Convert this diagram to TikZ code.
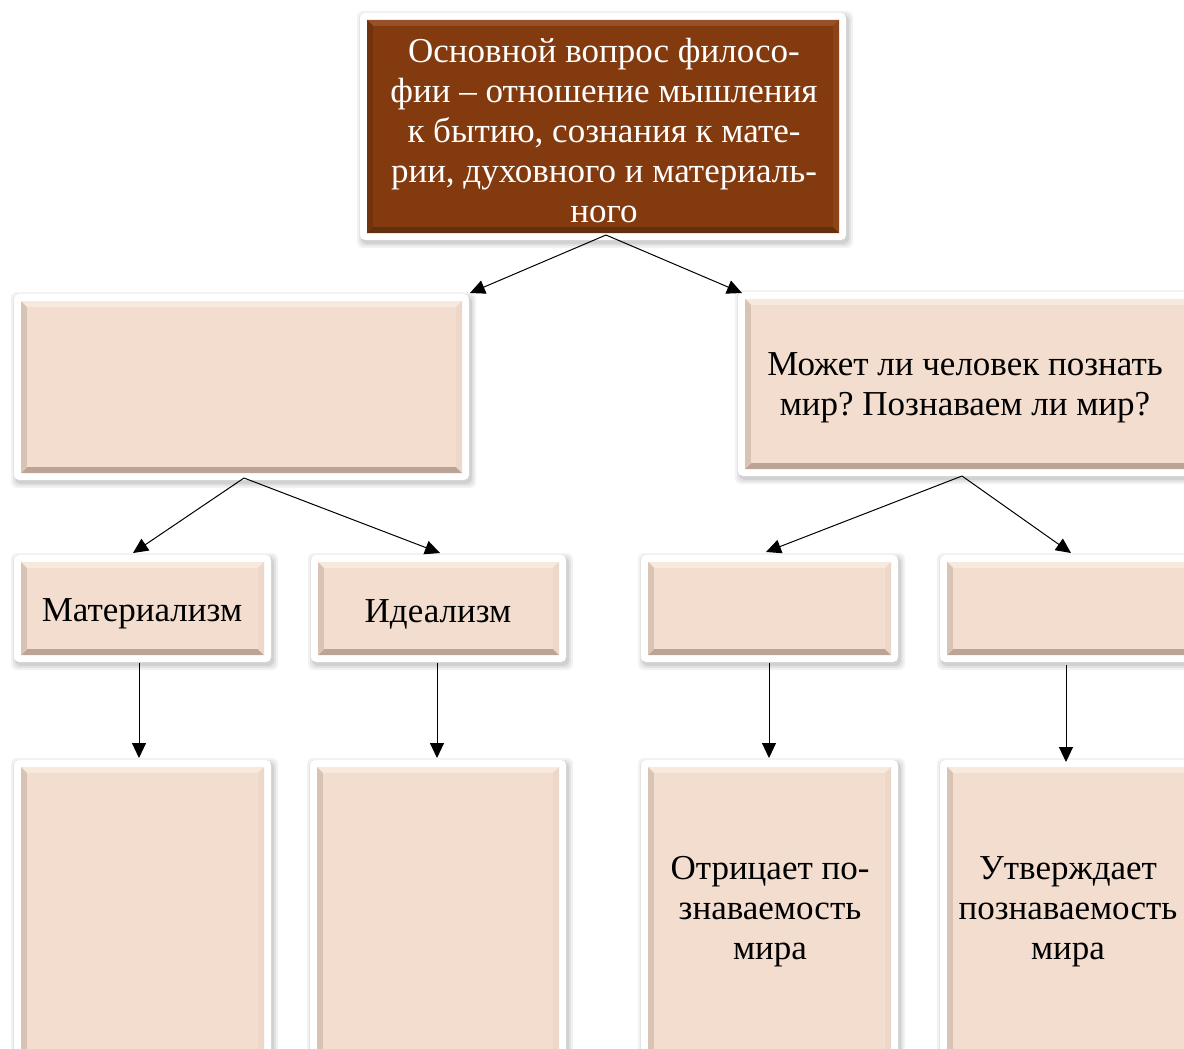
\documentclass[tikz,border=0pt]{standalone}
\usepackage{fontspec}
\setmainfont{Liberation Serif}
\usetikzlibrary{arrows.meta,fit}
\frenchspacing
\definecolor{faceL}{HTML}{F2DDCF}
\definecolor{topL}{HTML}{F8E9DF}
\definecolor{leftL}{HTML}{D9C3B5}
\definecolor{rightL}{HTML}{EDD7C9}
\definecolor{botL}{HTML}{BBA495}
\definecolor{faceB}{HTML}{843A0F}
\definecolor{topB}{HTML}{985028}
\definecolor{leftB}{HTML}{70330E}
\definecolor{rightB}{HTML}{8C4418}
\definecolor{botB}{HTML}{60300F}
\tikzset{
  arr/.style={line width=1pt,-{Triangle[length=15pt,width=14pt]}},
  lbl/.style={align=center,inner sep=0pt,font=\fontsize{35}{40}\selectfont},
  frame/.style={inner sep=0pt,draw=none}
}
% #1 name, #2 x1, #3 y1, #4 x2, #5 y2 (outer frame), #6 color suffix (L or B)
\newcommand\bevbox[6]{%
  \foreach \e/\o in {5/0.05,3/0.06,1/0.08}{%
    \fill[black,opacity=\o,rounded corners=6pt] ({#2-\e+2},{#3-\e+3}) rectangle ({#4+\e+2},{#5+\e+3});}
  \fill[white,rounded corners=5pt] (#2,#3) rectangle (#4,#5);
  \node[frame,fit={(#2,#3)(#4,#5)}] (#1) {};
  \fill[face#6] ({#2+7},{#3+7}) rectangle ({#4-7},{#5-7});
  \fill[top#6] ({#2+7},{#3+7}) -- ({#4-7},{#3+7}) -- ({#4-13},{#3+13}) -- ({#2+13},{#3+13}) -- cycle;
  \fill[bot#6] ({#2+7},{#5-7}) -- ({#4-7},{#5-7}) -- ({#4-13},{#5-13}) -- ({#2+13},{#5-13}) -- cycle;
  \fill[left#6] ({#2+7},{#3+7}) -- ({#2+13},{#3+13}) -- ({#2+13},{#5-13}) -- ({#2+7},{#5-7}) -- cycle;
  \fill[right#6] ({#4-7},{#3+7}) -- ({#4-13},{#3+13}) -- ({#4-13},{#5-13}) -- ({#4-7},{#5-7}) -- cycle;
  \fill[face#6] ({#2+13},{#3+13}) rectangle ({#4-13},{#5-13});
}
\begin{document}
\begin{tikzpicture}[x=1pt,y=-1pt]
\useasboundingbox (0,0) rectangle (1184,1049);
\clip (0,0) rectangle (1184,1049);
\fill[white] (0,0) rectangle (1184,1049);
% boxes
\bevbox{top}{360}{13}{846}{240}{B}
\bevbox{ml}{14}{294}{469}{480}{L}
\bevbox{mr}{738}{292}{1200}{476}{L}
\bevbox{mat}{14}{555}{271}{662}{L}
\bevbox{ide}{311}{555}{566}{662}{L}
\bevbox{neg}{641}{555}{898}{662}{L}
\bevbox{aff}{940}{555}{1200}{662}{L}
\bevbox{matb}{14}{760}{271}{1070}{L}
\bevbox{ideb}{310}{760}{566}{1070}{L}
\bevbox{negb}{641}{760}{898}{1070}{L}
\bevbox{affb}{940}{760}{1200}{1070}{L}
% texts
\node[lbl,text=white] (ttop) at (604,131) {Основной вопрос филосо-\\фии – отношение мышления\\к бытию, сознания к мате-\\рии, духовного и материаль-\\ного};
\node[lbl] (tmr) at (965,388) {Может ли человек познать\\мир? Познаваем ли мир?};
\node[lbl] (tmat) at (142,614) {Материализм};
\node[lbl] (tide) at (438,614) {Идеализм};
\node[lbl] (tneg) at (770,912) {Отрицает по-\\знаваемость\\мира};
\node[lbl] (taff) at (1068,912) {Утверждает\\познаваемость\\мира};
% connector endpoints
\coordinate (s1) at (606,235);
\coordinate (e1a) at (470,293);
\coordinate (e1b) at (742,293);
\coordinate (s2) at (244,478);
\coordinate (e2a) at (133,553);
\coordinate (e2b) at (440,553);
\coordinate (s3) at (962,476);
\coordinate (e3a) at (766,552);
\coordinate (e3b) at (1071,553);
\coordinate (v1s) at (139,663); \coordinate (v1e) at (139,758);
\coordinate (v2s) at (437,663); \coordinate (v2e) at (437,758);
\coordinate (v3s) at (769,663); \coordinate (v3e) at (769,758);
\coordinate (v4s) at (1066,665); \coordinate (v4e) at (1066,762);
\draw[arr] (s1) -- (e1a);
\draw[arr] (s1) -- (e1b);
\draw[arr] (s2) -- (e2a);
\draw[arr] (s2) -- (e2b);
\draw[arr] (s3) -- (e3a);
\draw[arr] (s3) -- (e3b);
\draw[arr] (v1s) -- (v1e);
\draw[arr] (v2s) -- (v2e);
\draw[arr] (v3s) -- (v3e);
\draw[arr] (v4s) -- (v4e);
\end{tikzpicture}
\end{document}
